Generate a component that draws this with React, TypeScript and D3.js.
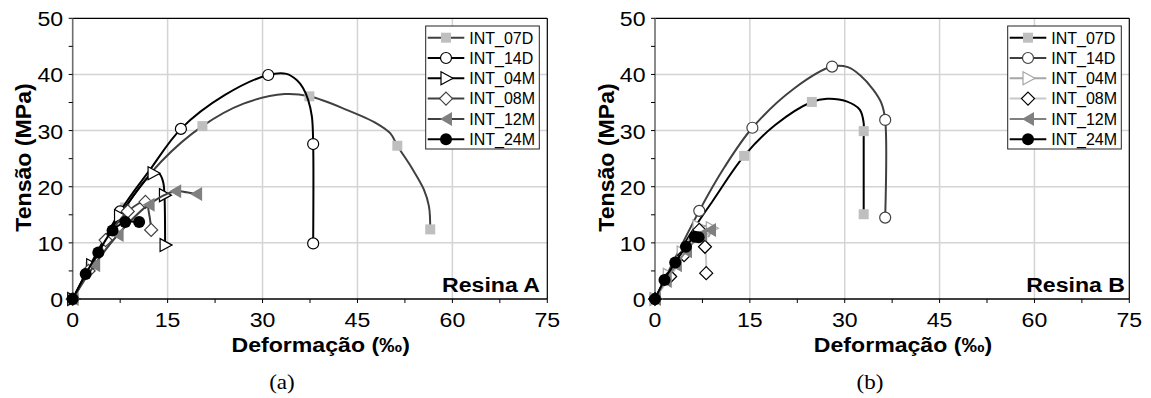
import React from "react";
import * as d3 from "d3";

type P = [number, number];

// ---------- Data: Resina A ----------
const A_07D_line: P[] = [[0,0],[2.8,5.7],[8.3,16.3],[14,24.5],[20.5,30.8],[27,34.8],[33.5,36.5],[37.4,36.1],[43.3,33.7],[48,31.3],[50.2,29.5],[51.3,27.3],[53.5,23.5],[55.5,19.5],[56.3,16.5],[56.5,12.4]];
const A_07D_marks: P[] = [[0,0],[2.8,5.7],[8.3,16.3],[20.5,30.8],[37.4,36.1],[51.3,27.3],[56.5,12.4]];
const A_14D_line: P[] = [[0,0],[7.5,15.6],[12.2,23],[17.1,30.3],[24,36.3],[30.9,39.9],[33.8,40.1],[35.4,39],[36.4,37.6],[37.2,35.5],[37.8,32.5],[38,27.6],[38,9.9]];
const A_14D_marks: P[] = [[0,0],[7.5,15.6],[17.1,30.3],[30.9,39.9],[38,27.6],[38,9.9]];
const A_04M_line: P[] = [[0,0],[3,6],[7.4,14.8],[12.7,22.4],[13.7,22.3],[14.3,20.8],[14.5,18.5],[14.6,9.6]];
const A_04M_marks: P[] = [[0,0],[3,6],[7.4,14.8],[12.7,22.4],[14.5,18.5],[14.6,9.6]];
const A_08M_line: P[] = [[0,0],[2.5,5],[5.2,10.5],[8.7,15.6],[11.5,17.3],[12.1,15],[12.4,12.3]];
const A_08M_marks: P[] = [[0,0],[2.5,5],[5.2,10.5],[8.7,15.6],[11.5,17.3],[12.4,12.3]];
const A_12M_line: P[] = [[0,0],[3.4,6],[7.1,11.4],[12,16.8],[16.2,19.2],[18,19],[19.5,18.7]];
const A_12M_marks: P[] = [[0,0],[3.4,6],[7.1,11.4],[12,16.8],[16.2,19.2],[19.5,18.7]];
const A_24M_line: P[] = [[0,0],[2.05,4.45],[4.05,8.3],[6.3,12.2],[8.3,13.7],[10.5,13.7]];
const A_24M_marks: P[] = [[0,0],[2.05,4.45],[4.05,8.3],[6.3,12.2],[8.3,13.7],[10.5,13.7]];

// ---------- Data: Resina B ----------
const B_07D_line: P[] = [[0,0],[5,10.5],[9.2,17.6],[14.1,25.5],[19,31],[24.8,35.1],[27.2,35.65],[30.3,35.2],[32.4,33.7],[33,31.3],[33,29.9],[33,15.1]];
const B_07D_marks: P[] = [[0,0],[14.1,25.5],[24.8,35.1],[33,29.9],[33,15.1]];
const B_14D_line: P[] = [[0,0],[7,15.7],[11,23.5],[15.4,30.5],[22,37.5],[28,41.4],[30.5,41.3],[32.4,39.9],[34.5,37.3],[35.8,34.9],[36.4,31.9],[36.4,14.5]];
const B_14D_marks: P[] = [[0,0],[7,15.7],[15.4,30.5],[28,41.4],[36.4,31.9],[36.4,14.5]];
const B_04M_line: P[] = [[0,0],[2.1,4.3],[4.3,8.3],[6.8,12.9],[8.9,12.6],[8.4,11]];
const B_04M_marks: P[] = [[0,0],[2.1,4.3],[4.3,8.3],[6.8,12.9],[8.9,12.6]];
const B_08M_line: P[] = [[0,0],[2.4,4.0],[4.6,7.8],[7.0,12.3],[7.9,9.3],[8.1,4.6]];
const B_08M_marks: P[] = [[0,0],[2.4,4.0],[4.6,7.8],[7.0,12.3],[7.9,9.3],[8.1,4.6]];
const B_12M_line: P[] = [[0,0],[1.7,3.2],[3.3,6.0],[4.9,8.5],[7.3,11.5],[8.7,12.3]];
const B_12M_marks: P[] = [[0,0],[1.7,3.2],[3.3,6.0],[4.9,8.5],[7.3,11.5],[8.7,12.3]];
const B_24M_line: P[] = [[0,0],[1.5,3.4],[3.2,6.5],[4.9,9.3],[6.3,11.1],[6.9,11.0]];
const B_24M_marks: P[] = [[0,0],[1.5,3.4],[3.2,6.5],[4.9,9.3],[6.3,11.1],[6.9,11.0]];

const SERIES_NAMES = ["INT_07D", "INT_14D", "INT_04M", "INT_08M", "INT_12M", "INT_24M"];
const X_TICKS = [0, 15, 30, 45, 60, 75];
const Y_TICKS = [0, 10, 20, 30, 40, 50];
const X_MINOR = [7.5, 22.5, 37.5, 52.5, 67.5];
const Y_MINOR = [5, 15, 25, 35, 45];

type Shape = "square" | "circle" | "triRight" | "diamond" | "triLeft" | "dot";
type Style = { shape: Shape; line: string; fill: string; stroke: string };

const STYLE_A: Style[] = [
  { shape: "square", line: "#404040", fill: "#bfbfbf", stroke: "none" },
  { shape: "circle", line: "#000000", fill: "#ffffff", stroke: "#000000" },
  { shape: "triRight", line: "#000000", fill: "#ffffff", stroke: "#000000" },
  { shape: "diamond", line: "#404040", fill: "#ffffff", stroke: "#404040" },
  { shape: "triLeft", line: "#404040", fill: "#808080", stroke: "none" },
  { shape: "dot", line: "#000000", fill: "#000000", stroke: "#000000" },
];
const STYLE_B: Style[] = [
  { shape: "square", line: "#000000", fill: "#bfbfbf", stroke: "none" },
  { shape: "circle", line: "#404040", fill: "#ffffff", stroke: "#404040" },
  { shape: "triRight", line: "#a6a6a6", fill: "#ffffff", stroke: "#a6a6a6" },
  { shape: "diamond", line: "#c8c8c8", fill: "#ffffff", stroke: "#000000" },
  { shape: "triLeft", line: "#808080", fill: "#808080", stroke: "none" },
  { shape: "dot", line: "#000000", fill: "#000000", stroke: "#000000" },
];

const LINES_A = [A_07D_line, A_14D_line, A_04M_line, A_08M_line, A_12M_line, A_24M_line];
const MARKS_A = [A_07D_marks, A_14D_marks, A_04M_marks, A_08M_marks, A_12M_marks, A_24M_marks];
const LINES_B = [B_07D_line, B_14D_line, B_04M_line, B_08M_line, B_12M_line, B_24M_line];
const MARKS_B = [B_07D_marks, B_14D_marks, B_04M_marks, B_08M_marks, B_12M_marks, B_24M_marks];

const FONT = "Liberation Sans";
const SERIF = "Liberation Serif";

function Marker({ s, x, y }: { s: Style; x: number; y: number }) {
  const sw = s.stroke === "none" ? 0 : 1.2;
  switch (s.shape) {
    case "square":
      return <rect x={x - 5} y={y - 5} width={10} height={10} fill={s.fill} />;
    case "circle":
      return <circle cx={x} cy={y} r={5.5} fill={s.fill} stroke={s.stroke} strokeWidth={sw} />;
    case "dot":
      return <circle cx={x} cy={y} r={6} fill={s.fill} />;
    case "triRight":
      return <polygon points={`${x - 5},${y - 6.5} ${x + 7},${y} ${x - 5},${y + 6.5}`} fill={s.fill} stroke={s.stroke} strokeWidth={sw} />;
    case "triLeft":
      return <polygon points={`${x + 6},${y - 7} ${x - 6},${y} ${x + 6},${y + 7}`} fill={s.fill} />;
    case "diamond":
      return <polygon points={`${x},${y - 6.5} ${x + 6.5},${y} ${x},${y + 6.5} ${x - 6.5},${y}`} fill={s.fill} stroke={s.stroke} strokeWidth={sw} />;
  }
  return null;
}

function SText({ x, y, size, weight, anchor, children, rotate, sx = 1.1, family = FONT }: any) {
  return (
    <text
      transform={`translate(${x},${y})${rotate ? ` rotate(${rotate})` : ""} scale(${sx},1)`}
      fontFamily={family}
      fontSize={size}
      fontWeight={weight || "normal"}
      textAnchor={anchor || "start"}
      fill="#000"
    >
      {children}
    </text>
  );
}

function Panel({ x0, x1, lines, marks, styles, label, labelX, caption, captionX, legendX }: any) {
  const yTop = 18.3;
  const yBot = 299;
  const xs = d3.scaleLinear().domain([0, 75]).range([x0, x1]);
  const ys = d3.scaleLinear().domain([0, 50]).range([yBot, yTop]);
  const lineGen = d3
    .line<P>()
    .x((d) => xs(d[0]))
    .y((d) => ys(d[1]))
    .curve(d3.curveCatmullRom.alpha(0.5));

  const legY0 = 26;
  const rowH = 20.3;
  return (
    <g>
      {X_TICKS.slice(1, -1).map((t) => (
        <line key={"gx" + t} x1={xs(t)} x2={xs(t)} y1={yTop} y2={yBot} stroke="#d4d4d4" strokeWidth={1.5} />
      ))}
      {Y_TICKS.slice(1, -1).map((t) => (
        <line key={"gy" + t} x1={x0} x2={x1} y1={ys(t)} y2={ys(t)} stroke="#d4d4d4" strokeWidth={1.5} />
      ))}
      <line x1={x0} x2={x1} y1={yTop} y2={yTop} stroke="#000" strokeWidth={1.2} />
      <line x1={x1} x2={x1} y1={yTop} y2={yBot} stroke="#000" strokeWidth={1.2} />
      <line x1={x0} x2={x0} y1={yTop} y2={yBot} stroke="#6e6e6e" strokeWidth={1.6} />
      <line x1={x0} x2={x1} y1={yBot} y2={yBot} stroke="#000" strokeWidth={1.4} />
      {[...X_TICKS, ...X_MINOR].map((t) => (
        <line key={"tx" + t} x1={xs(t)} x2={xs(t)} y1={yBot} y2={yBot + 4} stroke="#000" strokeWidth={1} />
      ))}
      {[...Y_TICKS, ...Y_MINOR].map((t) => (
        <line key={"ty" + t} x1={x0 - 4} x2={x0} y1={ys(t)} y2={ys(t)} stroke="#000" strokeWidth={1} />
      ))}
      {X_TICKS.map((t) => (
        <SText key={"lx" + t} x={xs(t)} y={326.5} size={21} anchor="middle">{String(t)}</SText>
      ))}
      {Y_TICKS.map((t) => (
        <SText key={"ly" + t} x={x0 - 9.5} y={ys(t) + 8} size={21} anchor="end">{String(t)}</SText>
      ))}
      {lines.map((ln: P[], i: number) => (
        <g key={"s" + i}>
          <path d={lineGen(ln) || ""} fill="none" stroke={styles[i].line} strokeWidth={2} />
          {marks[i].map((p: P, j: number) => (
            <Marker key={j} s={styles[i]} x={xs(p[0])} y={ys(p[1])} />
          ))}
        </g>
      ))}
      <rect x={legendX} y={legY0} width={113.6} height={123} fill="#fff" stroke="#222" strokeWidth={1} />
      {SERIES_NAMES.map((n, i) => {
        const cy = legY0 + 11.7 + i * rowH;
        return (
          <g key={"lg" + i}>
            <line x1={legendX + 2} x2={legendX + 38.6} y1={cy} y2={cy} stroke={styles[i].line} strokeWidth={2} />
            <Marker s={styles[i]} x={legendX + 20.3} y={cy} />
            <text x={legendX + 43.6} y={cy + 5.8} fontFamily={FONT} fontSize={16} fill="#000">{n}</text>
          </g>
        );
      })}
      <SText x={labelX} y={291.7} size={21} weight="bold" anchor="end">{label}</SText>
      <SText x={x0 + 248} y={352} size={21} weight="bold" anchor="middle">Deformação (‰)</SText>
      <SText x={x0 - 41.5} y={157.5} size={22} weight="bold" anchor="middle" rotate={-90} sx={1.05}>Tensão (MPa)</SText>
      <SText x={captionX} y={389} size={22} anchor="middle" family={SERIF} sx={1.05}>{caption}</SText>
    </g>
  );
}

export default function App() {
  return (
    <svg width={1151} height={398} style={{ position: "absolute", left: 0, top: 0, background: "#fff" }}>
      <rect width={1151} height={398} fill="#fff" />
      <Panel x0={72.7} x1={547.3} lines={LINES_A} marks={MARKS_A} styles={STYLE_A} label="Resina A" labelX={540} caption="(a)" captionX={282} legendX={425.7} />
      <Panel x0={655} x1={1129.3} lines={LINES_B} marks={MARKS_B} styles={STYLE_B} label="Resina B" labelX={1125} caption="(b)" captionX={870} legendX={1007.7} />
    </svg>
  );
}
